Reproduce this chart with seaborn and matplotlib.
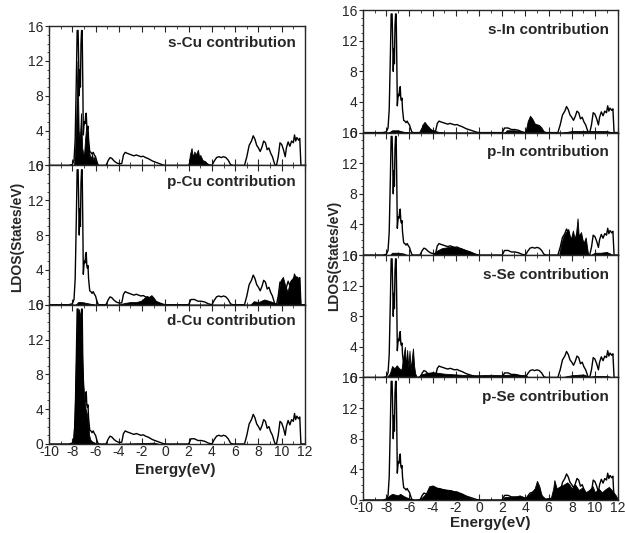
import numpy as np
import pandas as pd
import matplotlib
matplotlib.use('Agg')
import matplotlib.pyplot as plt
import seaborn as sns
from matplotlib.ticker import MultipleLocator

# total DOS outline (same in every panel)
tot_e = [-10.0, -8.3, -8.0, -7.85, -7.75, -7.65, -7.58, -7.5, -7.45, -7.4, -7.35, -7.3, -7.25, -7.2,
         -7.15, -7.1, -7.05, -7.0, -6.95, -6.9, -6.85, -6.8, -6.75, -6.7, -6.65, -6.6, -6.5, -6.4,
         -6.3, -6.2, -6.1, -6.0, -5.9, -5.8, -5.7, -5.1, -4.9, -4.75, -4.6, -4.4, -4.2, -4.0,
         -3.75, -3.6, -3.45, -3.3, -3.1, -2.9, -2.7, -2.5, -2.3, -2.1, -1.9, -1.7, -1.5, -1.3,
         -1.1, -0.9, -0.7, -0.5, -0.2, 0.0, 2.0, 2.2, 2.5, 2.8, 3.1, 3.4, 3.7, 4.0, 4.2, 4.4,
         4.6, 4.8, 5.0, 5.2, 5.4, 5.6, 5.8, 6.8, 7.0, 7.2, 7.4, 7.55, 7.7, 7.85, 8.0, 8.15, 8.3,
         8.45, 8.6, 8.75, 8.9, 9.05, 9.2, 9.4, 9.55, 9.7, 9.85, 10.0, 10.15, 10.3, 10.4, 10.55,
         10.7, 10.85, 11.0, 11.1, 11.2, 11.3, 11.45, 11.55, 11.65, 12.0]
tot_v = [0, 0, 0.1, 0.6, 3.0, 10.0, 15.5, 15.5, 12.0, 8.0, 11.0, 9.0, 14.0, 15.5,
         15.5, 10.0, 3.5, 4.5, 5.0, 4.8, 5.8, 6.0, 4.5, 4.2, 4.5, 3.0, 1.6, 1.5,
         1.3, 1.5, 1.2, 1.0, 0.5, 0.1, 0, 0, 0.6, 0.9, 0.8, 0.5, 0.3, 0.2,
         0.2, 1.2, 1.5, 1.4, 1.3, 1.2, 1.1, 1.2, 1.1, 1.0, 1.05, 0.9, 0.8, 0.65,
         0.5, 0.4, 0.3, 0.2, 0.05, 0, 0, 0.6, 0.6, 0.4, 0.4, 0.3, 0.1, 0, 0.5, 0.9,
         1.0, 0.9, 1.0, 0.9, 0.6, 0.1, 0, 0, 1.0, 2.3, 2.8, 3.4, 3.0, 2.3, 2.0, 1.6, 2.1,
         2.8, 2.6, 1.8, 2.0, 1.4, 1.0, 0.1, 0, 1.0, 2.6, 2.4, 1.8, 1.0, 2.0, 2.7,
         2.2, 2.8, 2.6, 3.5, 2.8, 3.2, 2.9, 3.1, 0, 0]

# partial contributions (black filled)
scu_e = [-10, -7.85, -7.75, -7.65, -7.55, -7.45, -7.35, -7.25, -7.15, -7.0, -6.9, -6.8, -6.7, -6.6,
         -6.5, -6.4, -6.3, -6.2, -6.1, -6.0, -5.9, 2.0, 2.1, 2.25, 2.35, 2.5, 2.6, 2.8, 2.9,
         3.0, 3.2, 3.4, 3.6, 3.8, 12]
scu_v = [0, 0, 2, 6, 12, 4, 3, 6, 2, 1, 3, 4.5, 3.8, 2,
         1.2, 0.8, 1.3, 0.6, 1.0, 0.4, 0, 0, 1.2, 2.0, 1.0, 1.6, 1.2, 1.8, 1.0,
         1.2, 0.6, 0.5, 0.2, 0, 0]

pcu_e = [-10, -7.7, -7.5, -7.2, -6.8, -6.4, -6.0, -4.0, -3.5, -3.0, -2.5, -2.0, -1.8, -1.6,
         -1.4, -1.2, -1.0, -0.8, -0.5, 0.0, 7.3, 7.6, 8.0, 8.5, 9.0, 9.4, 9.6, 9.75, 9.9, 10.1,
         10.3, 10.5, 10.7, 10.9, 11.1, 11.3, 11.5, 11.6, 12]
pcu_v = [0, 0, 0.3, 0.3, 0.2, 0.1, 0, 0, 0.2, 0.3, 0.3, 0.5, 0.8, 1.0,
         0.9, 1.1, 0.8, 0.4, 0.2, 0, 0, 0.4, 0.3, 0.6, 0.4, 0.2, 0, 1.5, 2.8, 3.2,
         2.2, 1.5, 2.6, 3.0, 3.4, 3.0, 3.2, 0, 0]

dcu_e = [-10, -7.95, -7.85, -7.75, -7.65, -7.55, -7.45, -7.35, -7.25, -7.15, -7.05, -6.95, -6.85,
         -6.75, -6.65, -6.55, -6.45, -6.3, -6.0, -5.8, -2.0, -1.0, -0.5, 12]
dcu_v = [0, 0, 2, 6, 12, 15, 15.5, 15, 13, 10, 7, 5, 4,
         3.5, 2.5, 1.0, 0.5, 0.3, 0.1, 0, 0.1, 0.15, 0, 0]

sin_e = [-10, -7.8, -7.5, -7.0, -6.5, -6.0, -5.0, -4.9, -4.7, -4.5, -4.2, -4.0, -3.5, -3.0,
         2.2, 2.4, 3.0, 3.5, 4.0, 4.2, 4.4, 4.6, 4.8, 5.0, 5.2, 5.5, 5.7, 7.2, 8.0, 9.0, 10.0,
         11.0, 11.6, 12]
sin_v = [0, 0, 0.3, 0.3, 0.1, 0, 0, 1.0, 1.4, 1.0, 0.5, 0.3, 0.1, 0,
         0, 0.3, 0.3, 0.2, 0, 1.5, 2.2, 1.8, 1.2, 1.0, 0.8, 0.2, 0, 0, 0.2, 0.2, 0.2,
         0.2, 0, 0]

pin_e = [-10, -7.7, -7.5, -7.0, -6.5, -6.2, -4.0, -3.6, -3.2, -2.8, -2.4, -2.0, -1.6, -1.2,
         -0.8, -0.4, 0.0, 6.9, 7.1, 7.3, 7.5, 7.7, 7.9, 8.1, 8.3, 8.5, 8.6, 8.8, 9.0, 9.2,
         9.4, 9.6, 10.0, 10.5, 11.0, 11.6, 12]
pin_v = [0, 0, 0.3, 0.3, 0.2, 0, 0, 0.6, 0.9, 1.0, 1.1, 1.0, 0.9, 0.7,
         0.5, 0.2, 0, 0, 1.5, 2.5, 3.0, 3.4, 2.0, 3.2, 1.8, 4.8, 2.5, 3.0, 1.5, 2.3,
         0.2, 0, 0.3, 0.3, 0.4, 0, 0]

sse_e = [-10, -8.0, -7.7, -7.5, -7.3, -7.1, -6.9, -6.7, -6.5, -6.4, -6.3, -6.2, -6.1, -6.0,
         -5.9, -5.8, -5.7, -5.6, -5.5, -5.35, -5.0, -4.5, -4.0, -3.5, -3.0, -2.0, -1.0, 0.0,
         1.0, 2.0, 3.0, 4.0, 4.3, 7.0, 8.0, 9.0, 9.5, 10.0, 11.0, 11.6, 12]
sse_v = [0, 0, 0.5, 1.5, 1.2, 1.6, 1.2, 1.0, 3.0, 4.0, 1.5, 3.6, 1.2, 3.5,
         1.0, 2.5, 3.8, 1.5, 0.5, 0, 0.4, 0.6, 0.7, 0.6, 0.5, 0.4, 0.3, 0.3,
         0.35, 0.3, 0.4, 0.3, 0, 0, 0.3, 0.4, 0.1, 0.2, 0.2, 0, 0]

pse_e = [-10, -8.2, -7.8, -7.5, -7.0, -6.8, -6.5, -6.2, -5.8, -5.5, -5.0, -4.6, -4.3, -4.0,
         -3.6, -3.0, -2.5, -2.0, -1.5, -1.0, -0.5, 0.0, 2.0, 2.2, 3.0, 3.5, 4.0, 4.4, 4.8,
         5.0, 5.2, 5.4, 5.7, 6.2, 6.4, 6.5, 6.7, 7.0, 7.3, 7.6, 7.8, 8.0, 8.3, 8.6, 8.9, 9.2,
         9.5, 9.8, 10.0, 10.3, 10.6, 10.9, 11.2, 11.5, 11.8, 12.0]
pse_v = [0, 0, 0.5, 0.8, 0.6, 0.8, 0.5, 0.3, 0.1, 0, 0.2, 0.8, 1.8, 1.9,
         1.6, 1.4, 1.3, 1.1, 0.8, 0.4, 0.1, 0, 0, 0.4, 0.4, 0.6, 0.3, 0.8, 1.5,
         2.5, 1.8, 0.6, 0.2, 0.3, 1.5, 2.6, 1.5, 1.8, 2.0, 2.3, 2.0, 1.5, 2.0, 1.3, 1.6, 1.0,
         1.3, 1.8, 1.0, 1.5, 1.0, 1.4, 1.7, 1.2, 0.6, 0]

left_names = ['s-Cu contribution', 'p-Cu contribution', 'd-Cu contribution']
right_names = ['s-In contribution', 'p-In contribution', 's-Se contribution', 'p-Se contribution']
left_parts = [(scu_e, scu_v), (pcu_e, pcu_v), (dcu_e, dcu_v)]
right_parts = [(sin_e, sin_v), (pin_e, pin_v), (sse_e, sse_v), (pse_e, pse_v)]
yticks = [0, 4, 8, 12, 16]
xticks = list(range(-10, 13, 2))

sns.set_style('ticks')
plt.rcParams['font.family'] = ['Liberation Sans', 'DejaVu Sans']
plt.rcParams['axes.unicode_minus'] = False

tot = pd.DataFrame({'E': tot_e, 'dos': tot_v})

fig = plt.figure(figsize=(6.25, 5.33), dpi=100)


def panel(rect, name, part, last, txt_y):
    ax = fig.add_axes(rect)
    ax.fill_between(part[0], 0, part[1], color='black', lw=0.6)
    sns.lineplot(data=tot, x='E', y='dos', ax=ax, color='black', lw=1.0,
                 estimator=None, sort=False)
    ax.set_xlim(-10, 12)
    ax.set_ylim(0, 16)
    ax.set_xticks(xticks)
    ax.set_yticks(yticks)
    ax.xaxis.set_minor_locator(MultipleLocator(1))
    ax.yaxis.set_minor_locator(MultipleLocator(1))
    ax.tick_params(axis='x', which='both', direction='in', top=True, bottom=True,
                   labelsize=10, pad=1)
    ax.tick_params(axis='x', which='major', length=4)
    ax.tick_params(axis='x', which='minor', length=2)
    ax.tick_params(axis='y', which='major', direction='out', length=3, labelsize=10, pad=1)
    ax.tick_params(axis='y', which='minor', direction='out', length=1.5)
    ax.set_xlabel('')
    ax.set_ylabel('')
    if not last:
        ax.tick_params(axis='x', labelbottom=False)
    for s in ax.spines.values():
        s.set_linewidth(1.0)
        s.set_visible(True)
    ax.text(0.965, txt_y, name, transform=ax.transAxes, ha='right', va='center',
            fontsize=11, fontweight='bold')
    return ax


lb, lt = 0.167, 0.951
lh = (lt - lb) / 3
for i, (nm, pt) in enumerate(zip(left_names, left_parts)):
    panel([0.0784, lt - (i + 1) * lh, 0.4096, lh], nm, pt, i == 2, 0.88)

rb, rt = 0.062, 0.981
rh = (rt - rb) / 4
for i, (nm, pt) in enumerate(zip(right_names, right_parts)):
    panel([0.581, rt - (i + 1) * rh, 0.408, rh], nm, pt, i == 3, 0.84)

fig.text(0.28, 0.118, 'Energy(eV)', ha='center', va='center', fontsize=11, fontweight='bold')
fig.text(0.785, 0.019, 'Energy(eV)', ha='center', va='center', fontsize=11, fontweight='bold')
fig.text(0.027, 0.555, 'LDOS(States/eV)', ha='center', va='center', rotation=90,
         fontsize=10, fontweight='bold')
fig.text(0.535, 0.52, 'LDOS(States/eV)', ha='center', va='center', rotation=90,
         fontsize=10, fontweight='bold')

plt.savefig('out.png', dpi=100)
